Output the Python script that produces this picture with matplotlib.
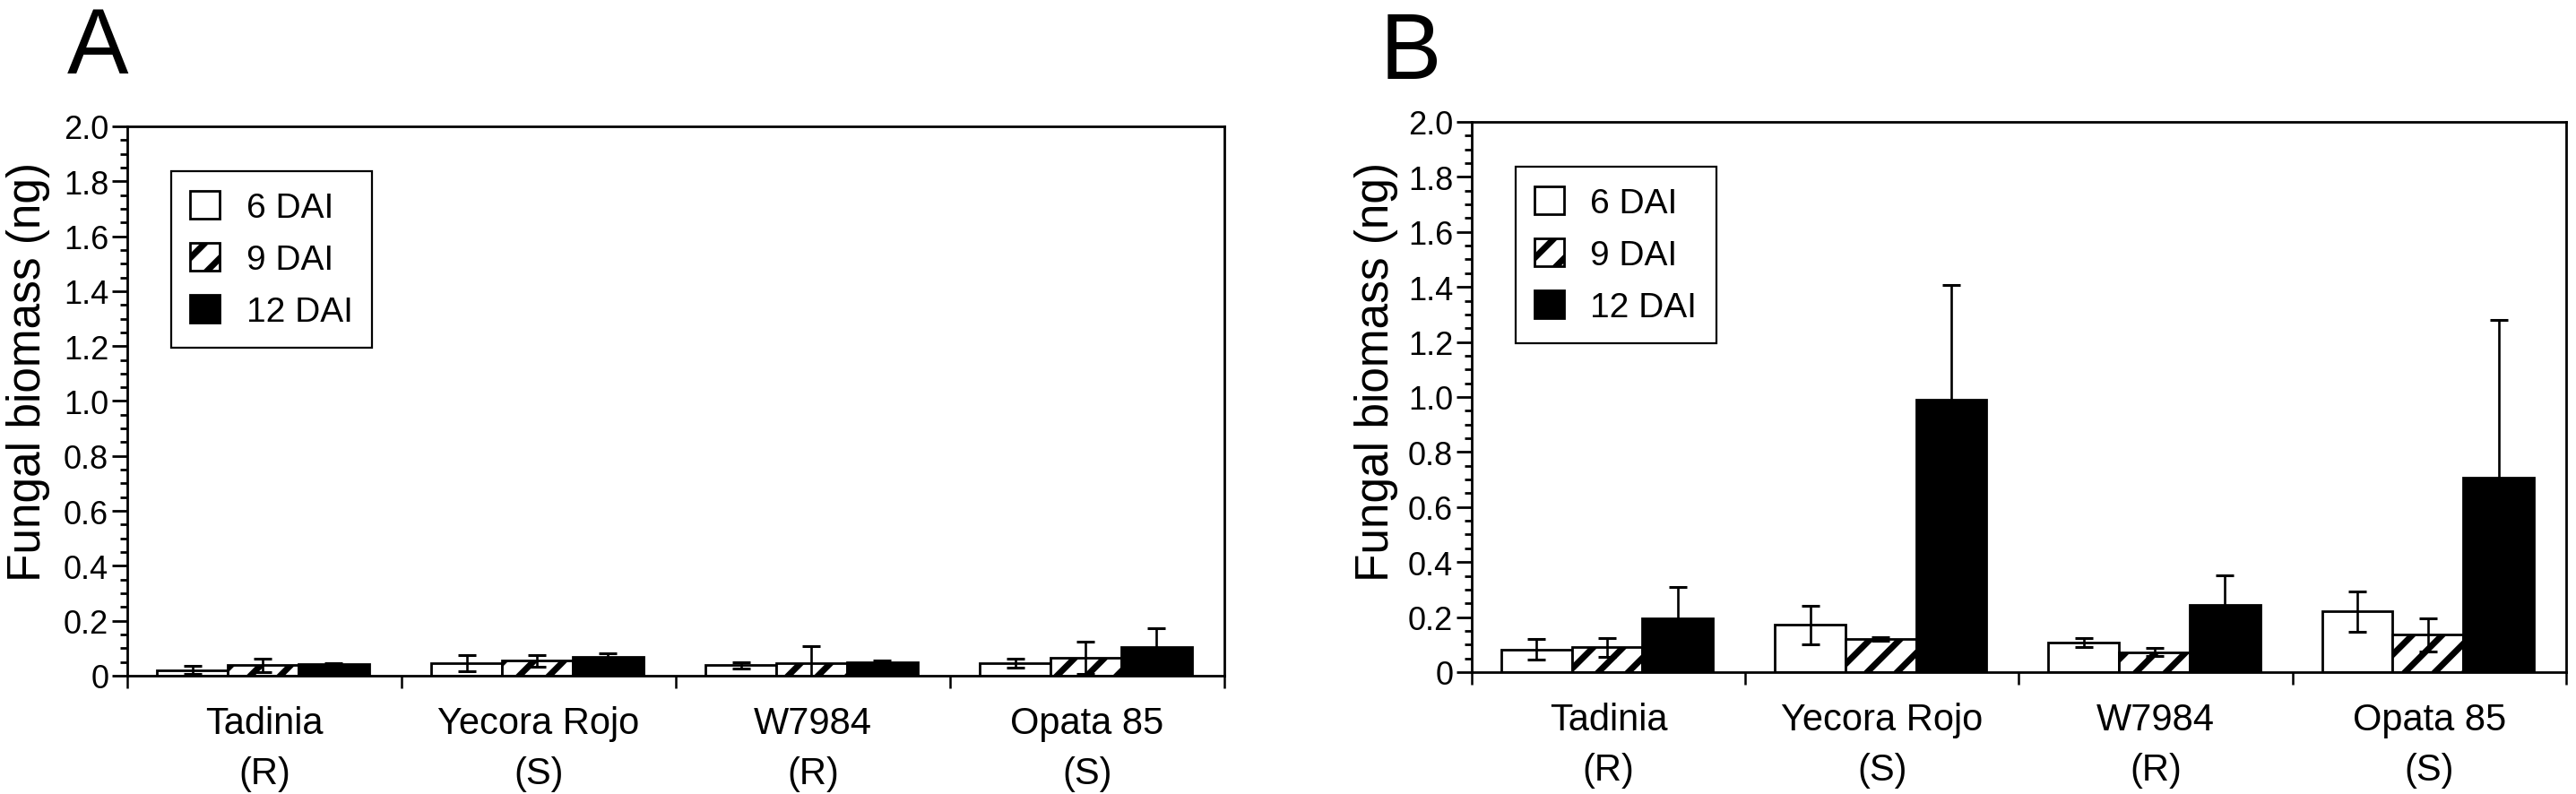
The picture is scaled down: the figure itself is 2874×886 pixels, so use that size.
import numpy as np
import matplotlib
matplotlib.use('Agg')
import matplotlib.pyplot as plt
from matplotlib.ticker import MultipleLocator, FixedLocator, FuncFormatter


# ===================== DATA =====================
categories = ['Tadinia\n(R)', 'Yecora Rojo\n(S)', 'W7984\n(R)', 'Opata 85\n(S)']
series_names = ['6 DAI', '9 DAI', '12 DAI']

# panel A
a_6 = [0.021, 0.045, 0.038, 0.045]
a_6_err = [0.014, 0.030, 0.012, 0.017]
a_9 = [0.038, 0.054, 0.047, 0.066]
a_9_err = [0.024, 0.020, 0.062, 0.058]
a_12 = [0.041, 0.068, 0.049, 0.105]
a_12_err = [0.006, 0.013, 0.006, 0.067]

# panel B
b_6 = [0.083, 0.172, 0.108, 0.220]
b_6_err = [0.038, 0.070, 0.017, 0.072]
b_9 = [0.090, 0.121, 0.072, 0.136]
b_9_err = [0.035, 0.006, 0.015, 0.060]
b_12 = [0.197, 0.991, 0.244, 0.706]
b_12_err = [0.113, 0.416, 0.107, 0.573]

y_ticks = [0, 0.2, 0.4, 0.6, 0.8, 1.0, 1.2, 1.4, 1.6, 1.8, 2.0]


# ===================== STYLE =====================
plt.rcParams['font.family'] = ['Liberation Sans', 'DejaVu Sans']
plt.rcParams['hatch.linewidth'] = 5.0
plt.rcParams['hatch.color'] = 'black'

styles = [
    dict(facecolor='white', hatch=None),
    dict(facecolor='white', hatch='/'),
    dict(facecolor='black', hatch=None),
]

BAR_W = 0.258
LW = 2.0


def draw_panel(ax, series, errors):
    groups = np.arange(len(categories))
    for k, (vals, errs) in enumerate(zip(series, errors)):
        x = groups + 0.495 + (k - 1) * BAR_W
        ax.bar(x, vals, width=BAR_W, edgecolor='black', linewidth=LW,
               label=series_names[k], zorder=2, **styles[k])
        ax.errorbar(x, vals, yerr=errs, fmt='none', ecolor='black',
                    elinewidth=1.9, capsize=7, capthick=2.2, zorder=3)

    ax.set_xlim(0, len(categories))
    ax.set_ylim(0, 2.0)

    # group separators as major ticks, names on minor ticks
    ax.xaxis.set_major_locator(FixedLocator(np.arange(len(categories) + 1)))
    ax.xaxis.set_major_formatter(FuncFormatter(lambda v, p: ''))
    ax.set_xticks(groups + 0.5, minor=True)
    ax.set_xticklabels(categories, minor=True, fontsize=30)
    for lab in ax.get_xticklabels(minor=True):
        lab.set_linespacing(1.5)
    ax.tick_params(axis='x', which='major', direction='out', length=10, width=1.8)
    ax.tick_params(axis='x', which='minor', length=0, pad=24)

    ax.yaxis.set_major_locator(FixedLocator(y_ticks))
    ax.yaxis.set_major_formatter(FuncFormatter(lambda v, p: '0' if v == 0 else f'{v:.1f}'))
    ax.yaxis.set_minor_locator(MultipleLocator(0.05))
    ax.tick_params(axis='y', which='major', direction='out', length=12, width=2,
                   labelsize=26, pad=3)
    ax.tick_params(axis='y', which='minor', direction='out', length=6, width=2)

    for sp in ax.spines.values():
        sp.set_linewidth(LW)

    leg = ax.legend(loc='upper left', bbox_to_anchor=(0.04, 0.918), borderaxespad=0,
                    fontsize=28, handlelength=0.85, handleheight=0.85,
                    handletextpad=0.75, labelspacing=0.55, borderpad=0.55,
                    fancybox=False, framealpha=1, edgecolor='black')
    leg.get_frame().set_linewidth(1.6)


# ===================== FIGURE =====================
fig = plt.figure(figsize=(28.74, 8.87), dpi=100)

ax_a = fig.add_axes([0.04941, 0.14882, 0.42589, 0.69109])
ax_b = fig.add_axes([0.57133, 0.15333, 0.42484, 0.69222])

draw_panel(ax_a, [a_6, a_9, a_12], [a_6_err, a_9_err, a_12_err])
draw_panel(ax_b, [b_6, b_9, b_12], [b_6_err, b_9_err, b_12_err])

# y labels and panel letters
fig.text(32 / 2874, 1 - 415 / 887, 'Fungal biomass (ng)', rotation=90,
         ha='center', va='center', fontsize=37)
fig.text(1535 / 2874, 1 - 415 / 887, 'Fungal biomass (ng)', rotation=90,
         ha='center', va='center', fontsize=37)

fig.text(75 / 2874, 1 - 82 / 887, 'A', fontsize=74, ha='left', va='baseline')
fig.text(1540 / 2874, 1 - 88 / 887, 'B', fontsize=74, ha='left', va='baseline')

fig.savefig('out.png', dpi=100)
